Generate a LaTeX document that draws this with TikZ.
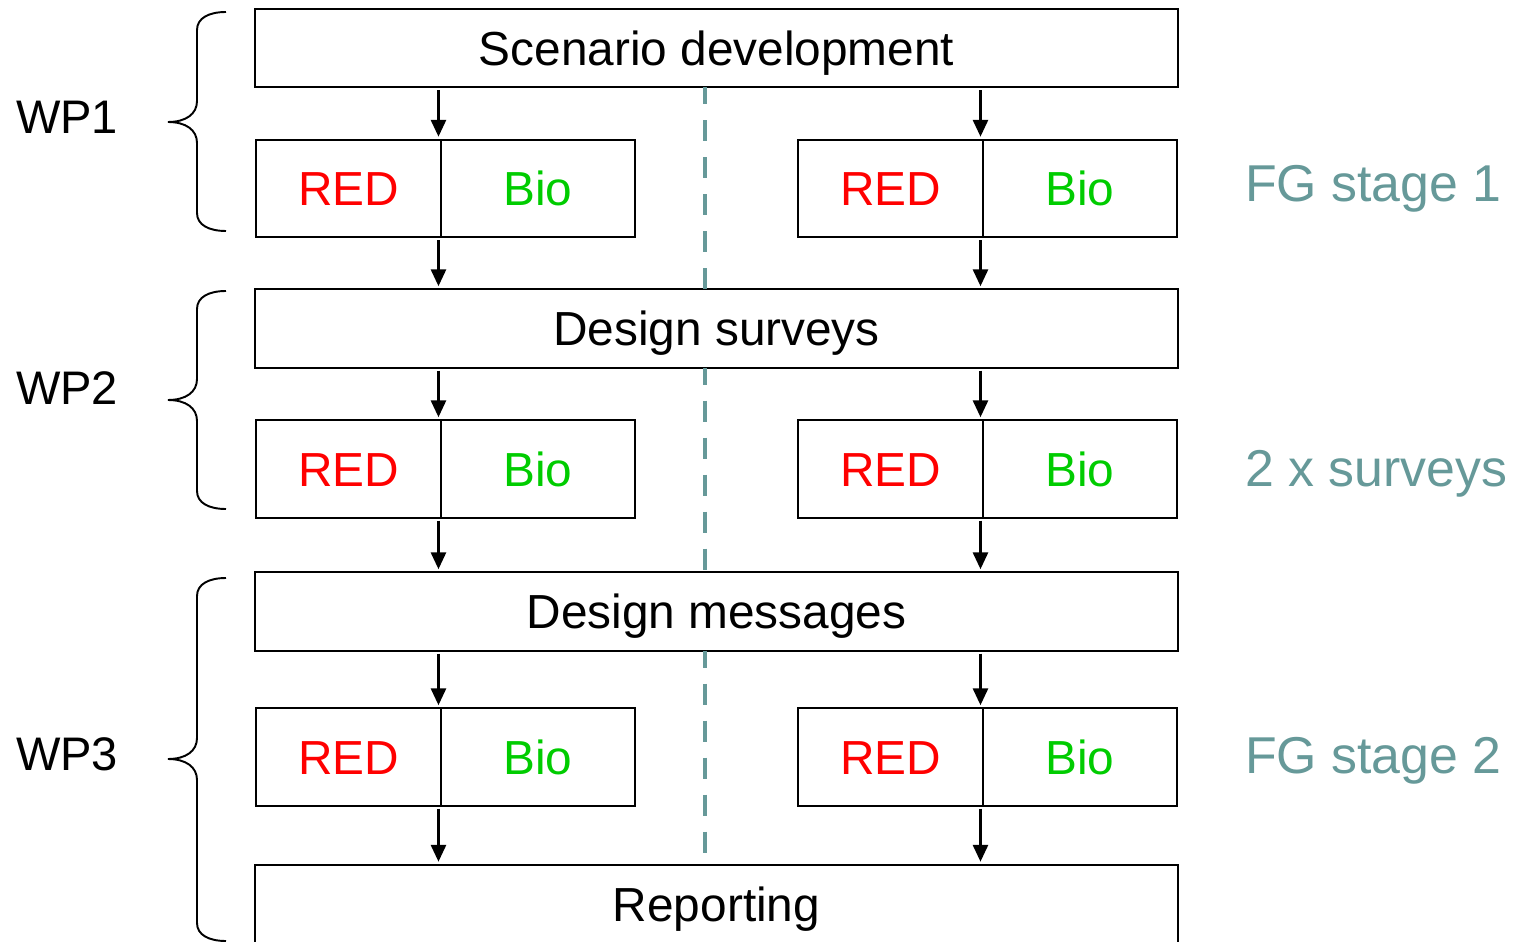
\documentclass[tikz,border=0pt]{standalone}
\usepackage{fontspec}
\setmainfont{Liberation Sans}
\usepackage{tikz}
\usetikzlibrary{positioning,arrows.meta,calc}
\definecolor{fgteal}{RGB}{102,153,153}
\definecolor{biogreen}{RGB}{0,204,0}
\definecolor{redred}{RGB}{255,0,0}
% curly bracket: top y, bottom y, tip y
\newcommand{\wpbrace}[3]{%
  \draw[wpline] (226,#1) .. controls (209,#1) and (197,#1+6) .. (197,#1+18)
    -- (197,#3-21) .. controls (197,#3-8) and (186,#3) .. (168,#3)
    .. controls (186,#3) and (197,#3+8) .. (197,#3+21)
    -- (197,#2-18) .. controls (197,#2-6) and (209,#2) .. (226,#2);}

\begin{document}
\begin{tikzpicture}[x=0.02cm,y=-0.02cm,
  txt/.style={inner sep=0pt,outer sep=0pt,text height=19.5pt,text depth=0pt,font=\fontsize{27.2}{33}\selectfont},
  stagebox/.style={txt,draw,line width=1.1pt,fill=white,minimum width=18.46cm,minimum height=1.57cm},
  redbox/.style={txt,draw,line width=1.1pt,minimum width=3.7cm,minimum height=1.95cm,text=redred},
  biobox/.style={txt,draw,line width=1.1pt,minimum width=3.88cm,minimum height=1.95cm,text=biogreen},
  flow/.style={-{Triangle[length=0.34cm,width=0.3cm]},line width=1.7pt,shorten <=0.06cm,shorten >=0.06cm},
  divider/.style={fgteal,line width=2.8pt,dash pattern=on 0.42cm off 0.32cm,dash phase=0.08cm},
  wpline/.style={line width=1.1pt},
  wplabel/.style={txt,anchor=west,text height=19.2pt,font=\fontsize{26.8}{32}\selectfont},
  fglabel/.style={txt,anchor=west,text=fgteal,text height=21.1pt,font=\fontsize{29.5}{35}\selectfont}]
  \useasboundingbox (0,0) rectangle (1521,942);
  \clip (0,0) rectangle (1521,942);
  \coordinate (divx) at (705,0);
  % stages
  \node[stagebox] (scen) at (716.5,48){Scenario development};
  \node[stagebox] (surv) at (716.5,328.5){Design surveys};
  \node[stagebox] (mess) at (716.5,611.5){Design messages};
  \node[stagebox] (rep) at (716.5,904){Reporting};
  % divider between the two halves
  \draw[divider] (scen.south -| divx) -- (surv.north -| divx);
  \draw[divider] (surv.south -| divx) -- (mess.north -| divx);
  \draw[divider] (mess.south -| divx) -- (rep.north -| divx);
  % RED / Bio rows
  \foreach \r/\y in {1/188.5,2/469,3/757}{
    \node[redbox] (redL\r) at (348.5,\y){RED};
    \node[biobox,right=0pt of redL\r] (bioL\r){Bio};
    \node[redbox] (redR\r) at (890.5,\y){RED};
    \node[biobox,right=0pt of redR\r] (bioR\r){Bio};
  }
  % arrows
  \foreach \s/\r/\t in {scen/1/surv,surv/2/mess,mess/3/rep}{
    \draw[flow] ([xshift=-0.05cm]\s.south -| redL\r.east) -- ([xshift=-0.05cm]redL\r.north east);
    \draw[flow] ([xshift=-0.05cm]redL\r.south east) -- ([xshift=-0.05cm]\t.north -| redL\r.east);
    \draw[flow] ([xshift=-0.05cm]\s.south -| redR\r.east) -- ([xshift=-0.05cm]redR\r.north east);
    \draw[flow] ([xshift=-0.05cm]redR\r.south east) -- ([xshift=-0.05cm]\t.north -| redR\r.east);
  }
  % work packages
  \wpbrace{12}{231}{122}
  \wpbrace{291}{509}{400}
  \wpbrace{578}{941}{759}
  \node[wplabel] (wp1) at (16,117){WP1};
  \node[wplabel] (wp2) at (16,388){WP2};
  \node[wplabel] (wp3) at (16,754){WP3};
  \node[fglabel] (fg1) at (1245,183){FG stage 1};
  \node[fglabel] (fg2) at (1245,468){2 x surveys};
  \node[fglabel] (fg3) at (1245,755){FG stage 2};
\end{tikzpicture}
\end{document}
